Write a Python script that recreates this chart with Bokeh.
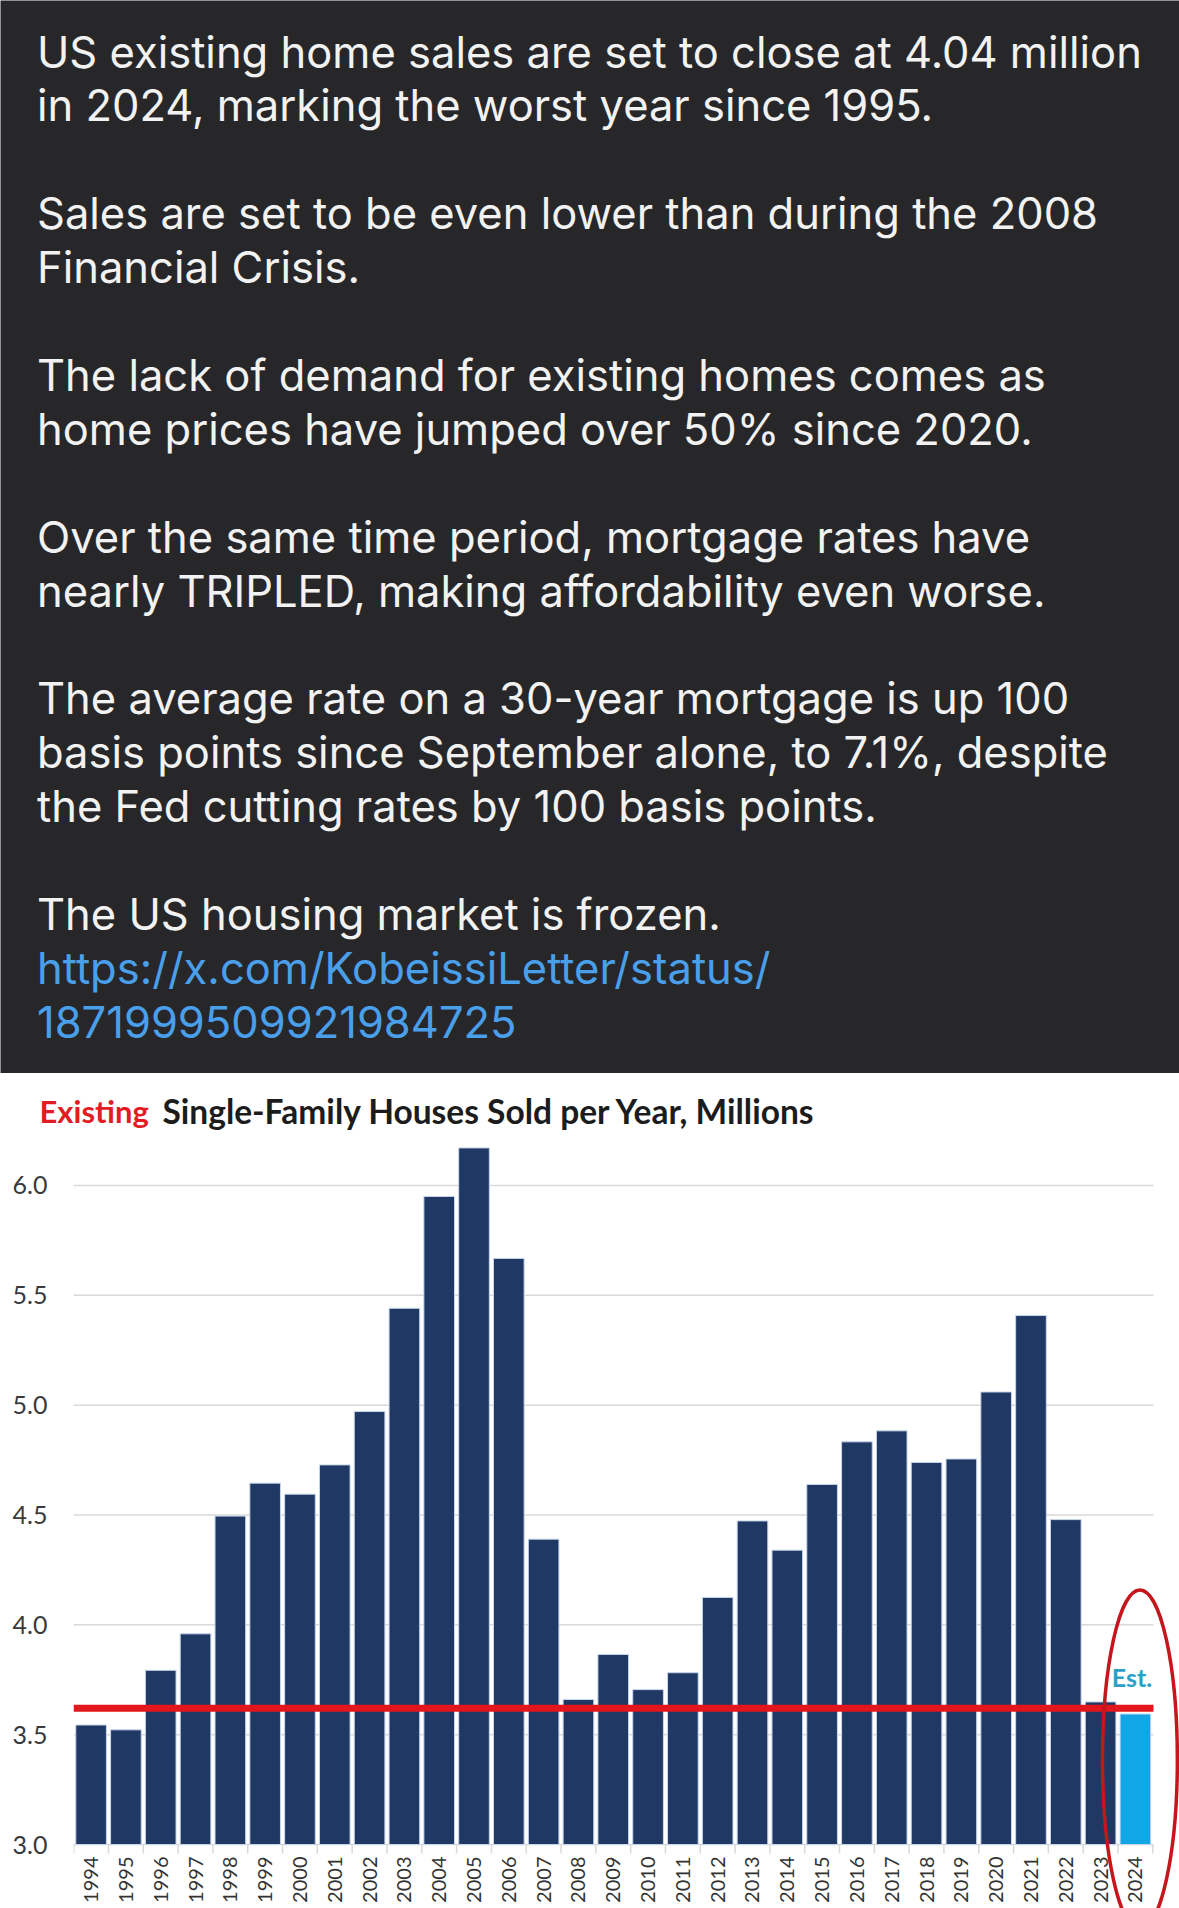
import math
from bokeh.plotting import figure
from bokeh.layouts import column
from bokeh.models import Range1d, FixedTicker, PrintfTickFormatter
from bokeh.core.properties import value
from bokeh.embed import file_html
from bokeh.resources import INLINE

# ---------------- data ----------------
paragraphs = [
    ["US existing home sales are set to close at 4.04 million",
     "in 2024, marking the worst year since 1995."],
    ["Sales are set to be even lower than during the 2008",
     "Financial Crisis."],
    ["The lack of demand for existing homes comes as",
     "home prices have jumped over 50% since 2020."],
    ["Over the same time period, mortgage rates have",
     "nearly TRIPLED, making affordability even worse."],
    ["The average rate on a 30-year mortgage is up 100",
     "basis points since September alone, to 7.1%, despite",
     "the Fed cutting rates by 100 basis points."],
    ["The US housing market is frozen."],
]
link_lines = ["https://x.com/KobeissiLetter/status/",
              "1871999509921984725"]

title_red = "Existing"
title_rest = "Single-Family Houses Sold per Year, Millions"

years = [1994, 1995, 1996, 1997, 1998, 1999, 2000, 2001, 2002, 2003,
         2004, 2005, 2006, 2007, 2008, 2009, 2010, 2011, 2012, 2013,
         2014, 2015, 2016, 2017, 2018, 2019, 2020, 2021, 2022, 2023, 2024]
sales = [3.544, 3.522, 3.793, 3.959, 4.495, 4.645, 4.595, 4.728, 4.971, 5.441,
         5.950, 6.171, 5.668, 4.390, 3.660, 3.865, 3.705, 3.782, 4.125, 4.473,
         4.340, 4.639, 4.833, 4.883, 4.739, 4.755, 5.060, 5.408, 4.479, 3.649, 3.594]
estimate_year = 2024
estimate_label = "Est."
threshold = 3.62
y_ticks = [3.0, 3.5, 4.0, 4.5, 5.0, 5.5, 6.0]
year_labels = [str(y) for y in years]

# ---------------- styles / layout ----------------
W = 1179
DARK = "#27272a"
TXT = "#f2f2f2"
LINK = "#4a9fea"
NAVY = "#1f3864"
SKY = "#12a6e6"
RED = "#e3151d"
ELL = "#c4161c"
GRID = "#d9d9d9"


def blank(fig, bg):
    fig.axis.visible = False
    fig.grid.visible = False
    fig.outline_line_color = None
    fig.background_fill_color = bg
    fig.border_fill_color = bg
    fig.frame_align = False


# ---------------- text panel ----------------
H1 = 1073
p1 = figure(width=W, height=H1, x_range=Range1d(0, W), y_range=Range1d(H1, 0),
            output_backend="svg", toolbar_location=None, min_border=0,
            x_axis_location=None, y_axis_location=None)
blank(p1, DARK)

lines, colors_t, ks = [], [], []
k = 0
for i, para in enumerate(paragraphs):
    for ln in para:
        lines.append(ln); colors_t.append(TXT); ks.append(k); k += 1
    if i < len(paragraphs) - 1:
        k += 1
for ln in link_lines:
    lines.append(ln); colors_t.append(LINK); ks.append(k); k += 1

line_h = 53.9
y0 = 51
p1.text(x=[36.5] * len(lines), y=[y0 + line_h * kk for kk in ks], text=lines,
        text_color=colors_t, text_font=value("Inter"), text_font_size="43.5px",
        text_baseline="middle", text_align="left")

# ---------------- chart title ----------------
H2 = 64
p2 = figure(width=W, height=H2, x_range=Range1d(0, W), y_range=Range1d(H2, 0),
            output_backend="svg", toolbar_location=None, min_border=0,
            x_axis_location=None, y_axis_location=None)
blank(p2, "white")
p2.text(x=[39], y=[37], text=[title_red], text_color="#e31b23",
        text_font=value("Lato"), text_font_style="bold", text_font_size="31px",
        text_baseline="middle")
p2.text(x=[162], y=[37], text=[title_rest], text_color="#1c1c1c",
        text_font=value("Lato"), text_font_style="bold", text_font_size="33.5px",
        text_baseline="middle")

# ---------------- chart ----------------
H3 = 1908 - H1 - H2
ppu = 219.67          # pixels per million on the y axis
pitch = 34.81         # pixels per year on the x axis
frame_left = 73
x0 = years[0] - 17.6 / pitch
x1 = x0 + (W - frame_left) / pitch
y_hi = y_ticks[-1] + (1185 - (H1 + H2)) / ppu
y_lo = y_ticks[0] - 64 / ppu
p3 = figure(width=W, height=H3, x_range=Range1d(x0, x1),
            y_range=Range1d(y_lo, y_hi), output_backend="svg",
            toolbar_location=None, min_border_left=frame_left, min_border_right=0,
            min_border_top=0, min_border_bottom=0, x_axis_location=None)
p3.outline_line_color = None
p3.background_fill_color = "white"
p3.border_fill_color = "white"
p3.frame_align = False
p3.xgrid.visible = False
p3.ygrid.visible = False

x_end = years[-1] + 0.52
# horizontal gridlines at the y tick values
p3.segment(x0=[x0] * len(y_ticks), x1=[x_end] * len(y_ticks), y0=y_ticks, y1=y_ticks,
           line_color=GRID, line_width=1.5)
# category separator ticks below the baseline
seps = [years[0] - 0.5] + [y + 0.5 for y in years]
p3.segment(x0=seps, x1=seps, y0=[y_ticks[0]] * len(seps),
           y1=[y_ticks[0] - 9 / ppu] * len(seps), line_color=GRID, line_width=1.5)

bar_colors = [SKY if y == estimate_year else NAVY for y in years]
p3.vbar(x=years, top=sales, bottom=y_ticks[0], width=0.88, fill_color=bar_colors,
        line_color="#c8d6ea", line_width=1)

p3.yaxis.ticker = FixedTicker(ticks=y_ticks)
p3.yaxis.formatter = PrintfTickFormatter(format="%.1f")
p3.yaxis.axis_line_color = None
p3.yaxis.major_tick_line_color = None
p3.yaxis.minor_tick_line_color = None
p3.yaxis.major_tick_out = 0
p3.yaxis.major_label_standoff = 26
p3.yaxis.major_label_text_font = "Lato"
p3.yaxis.major_label_text_font_size = "25px"
p3.yaxis.major_label_text_color = "#3a3a3a"

# year labels under the baseline, rotated to read upward
p3.text(x=years, y=[y_ticks[0] - 12 / ppu] * len(years), text=year_labels,
        angle=math.pi / 2, text_align="right", text_baseline="middle",
        text_font=value("Lato"), text_font_size="20px", text_color="#333333")

# threshold line
p3.segment(x0=[x0], x1=[x_end], y0=[threshold], y1=[threshold],
           line_color=RED, line_width=7)

est_val = sales[years.index(estimate_year)]
p3.text(x=[estimate_year - 0.1], y=[est_val + 0.17], text=[estimate_label],
        text_color="#2d9fc6", text_font=value("Lato"), text_font_style="bold",
        text_font_size="25px", text_align="center", text_baseline="middle")

# ellipse around the estimate bar
p3.ellipse(x=[estimate_year + 0.13], y=[3.386], width=[2.15], height=[1.545],
           fill_color=None, line_color=ELL, line_width=3.5)

layout = column(p1, p2, p3, spacing=0)
open("out.html", "w").write(file_html(layout, INLINE))
